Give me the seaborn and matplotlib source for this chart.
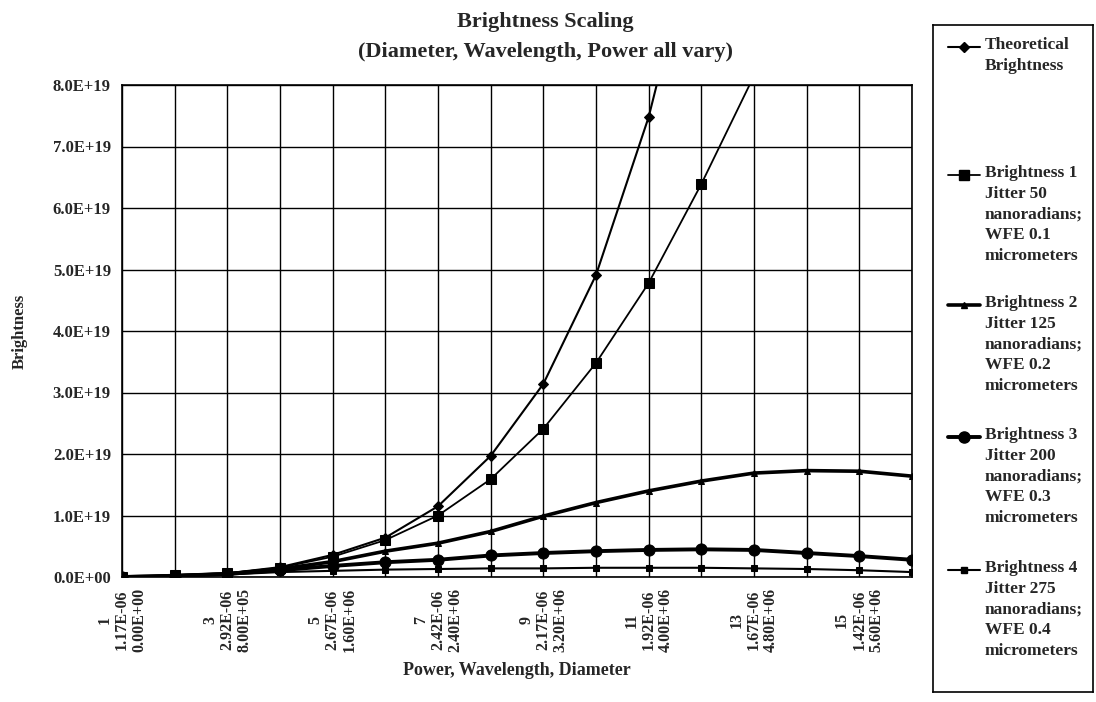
import numpy as np
import pandas as pd
import matplotlib
matplotlib.use("Agg")
import matplotlib.pyplot as plt
import seaborn as sns

# category index along the x axis (Power), with wavelength / diameter labels
power = list(range(1, 17))
wavelength_labels = ["1.17E-06", "2.92E-06", "2.67E-06", "2.42E-06",
                     "2.17E-06", "1.92E-06", "1.67E-06", "1.42E-06"]
diameter_labels = ["0.00E+00", "8.00E+05", "1.60E+06", "2.40E+06",
                   "3.20E+06", "4.00E+06", "4.80E+06", "5.60E+06"]

# brightness values (units of 1E19)
theoretical = [0, 0.03, 0.06, 0.16, 0.36, 0.64, 1.15, 1.97, 3.14, 4.91, 7.48, 10.9, 15.0, 20.0, 26.0, 33.0]
bright_1 = [0, 0.03, 0.06, 0.15, 0.33, 0.60, 1.00, 1.59, 2.41, 3.48, 4.78, 6.39, 8.15, 10.0, 12.0, 14.0]
bright_2 = [0, 0.02, 0.05, 0.13, 0.25, 0.42, 0.55, 0.74, 0.99, 1.21, 1.40, 1.56, 1.69, 1.73, 1.72, 1.64]
bright_3 = [0, 0.02, 0.05, 0.11, 0.18, 0.24, 0.28, 0.35, 0.39, 0.42, 0.44, 0.45, 0.44, 0.39, 0.34, 0.28]
bright_4 = [0, 0.02, 0.04, 0.08, 0.10, 0.12, 0.13, 0.14, 0.14, 0.15, 0.15, 0.15, 0.14, 0.13, 0.11, 0.08]

series_labels = [
    "Theoretical\nBrightness",
    "Brightness 1\nJitter 50\nnanoradians;\nWFE 0.1\nmicrometers",
    "Brightness 2\nJitter 125\nnanoradians;\nWFE 0.2\nmicrometers",
    "Brightness 3\nJitter 200\nnanoradians;\nWFE 0.3\nmicrometers",
    "Brightness 4\nJitter 275\nnanoradians;\nWFE 0.4\nmicrometers",
]
series_values = [theoretical, bright_1, bright_2, bright_3, bright_4]

# marker, marker size, line width per series
styles = [("D", 5, 1.5), ("s", 7, 1.3), ("^", 5, 2.6), ("o", 8, 2.8), ("s", 4, 1.5)]

sns.set_style("white")
plt.rcParams['font.family'] = ['Liberation Serif', 'DejaVu Serif']
plt.rcParams['font.weight'] = 'bold'

fig = plt.figure(figsize=(10.96, 7.02), dpi=100)
ax = fig.add_axes([122 / 1096, 1 - 577 / 702, 790 / 1096, 492 / 702])

rows = []
for lab, vals in zip(series_labels, series_values):
    for p, v in zip(power, vals):
        rows.append({"series": lab, "power": p, "brightness": v * 1e19})
df = pd.DataFrame(rows)

for lab, (mk, ms, lw) in zip(series_labels, styles):
    sub = df[df["series"] == lab]
    sns.lineplot(data=sub, x="power", y="brightness", ax=ax, color="black",
                 marker=mk, markersize=ms, linewidth=lw, markeredgecolor="black",
                 legend=False, zorder=3)

ax.set_xlim(1, 16)
ax.set_ylim(0, 8e19)
ax.set_yticks(np.arange(0, 8.01e19, 1e19))
ax.set_yticklabels([f"{v:.1E}" for v in np.arange(0, 8.01e19, 1e19)],
                   fontsize=12, fontweight="bold")
xt_labels = []
for p in power:
    if p % 2 == 1:
        k = (p - 1) // 2
        xt_labels.append(f"{p}\n{wavelength_labels[k]}\n{diameter_labels[k]}")
    else:
        xt_labels.append("")
ax.set_xticks(power)
ax.set_xticklabels(xt_labels, rotation=90, fontsize=11.5, fontweight="bold",
                   linespacing=1.1, ha="center", va="top", multialignment="center")
ax.tick_params(axis="both", direction="out", length=4, width=1, color="black", pad=4)
ax.grid(True, color="black", linewidth=1.0)
for sp in ax.spines.values():
    sp.set_color("black")
    sp.set_linewidth(1.2)
ax.set_xlabel("Power, Wavelength, Diameter", fontsize=13, fontweight="bold", labelpad=7)
ax.set_ylabel("Brightness", fontsize=12, fontweight="bold", labelpad=18)

fig.text(545 / 1096, 1 - 22 / 702, "Brightness Scaling", ha="center", va="center",
         fontsize=16, fontweight="bold")
fig.text(545 / 1096, 1 - 52 / 702, "(Diameter, Wavelength, Power all vary)",
         ha="center", va="center", fontsize=16, fontweight="bold")

# legend box drawn in its own axes, pixel coordinates from its top-left corner
lax = fig.add_axes([933 / 1096, 1 - 692 / 702, 160 / 1096, 667 / 702])
lax.set_xlim(0, 160)
lax.set_ylim(667, 0)
lax.set_xticks([])
lax.set_yticks([])
for sp in lax.spines.values():
    sp.set_color("black")
    sp.set_linewidth(1.2)
entry_y = [22, 150, 280, 412, 545]
for lab, (mk, ms, lw), y0 in zip(series_labels, styles, entry_y):
    lax.plot([15, 31, 47], [y0, y0, y0], color="black", lw=lw, marker=mk, markersize=ms,
             markevery=[1], markeredgecolor="black")
    lax.text(52, y0 - 10, lab, ha="left", va="top", fontsize=12.5, fontweight="bold",
             linespacing=1.4)

fig.savefig("out.png", dpi=100)
